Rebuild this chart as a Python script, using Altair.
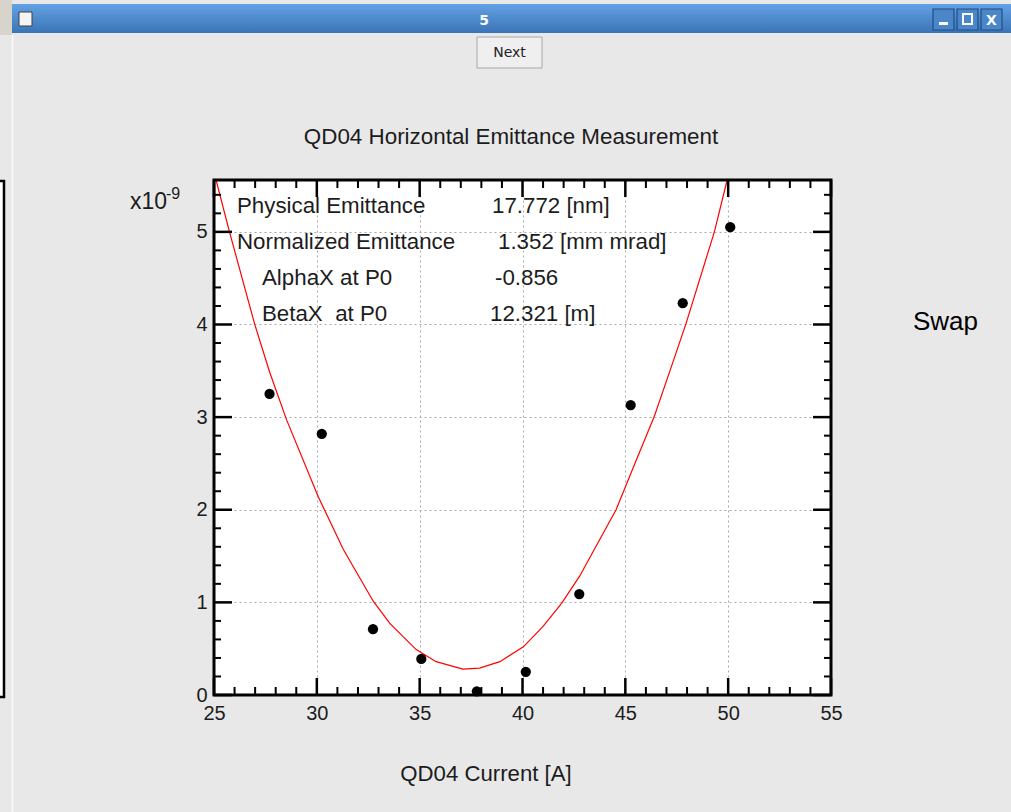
import altair as alt
import pandas as pd

# ---------------- data ----------------
current_A = [27.70, 30.24, 32.73, 35.08, 37.78, 40.16, 42.76, 45.26, 47.79, 50.10]
emittance_e9 = [3.25, 2.82, 0.71, 0.39, 0.04, 0.25, 1.09, 3.13, 4.23, 5.05]

fit_current_A = [25.10, 25.74, 26.97, 27.70, 28.53, 30.07, 31.29, 32.75, 33.56,
                 34.83, 35.80, 37.10, 37.91, 38.90, 40.04, 41.00, 41.90, 42.77,
                 44.55, 45.52, 46.41, 47.14, 47.95, 49.33, 49.95]
fit_value_e9 = [5.56, 5.01, 4.01, 3.49, 2.97, 2.14, 1.57, 1.01, 0.77,
                0.49, 0.36, 0.28, 0.29, 0.36, 0.52, 0.74, 0.99, 1.28,
                2.00, 2.53, 3.01, 3.48, 4.01, 5.00, 5.56]

x_major = [25, 30, 35, 40, 45, 50, 55]
x_minor = [26, 27, 28, 29, 31, 32, 33, 34, 36, 37, 38, 39, 41, 42, 43, 44,
           46, 47, 48, 49, 51, 52, 53, 54]
y_major = [0, 1, 2, 3, 4, 5]
y_minor = [0.2, 0.4, 0.6, 0.8, 1.2, 1.4, 1.6, 1.8, 2.2, 2.4, 2.6, 2.8,
           3.2, 3.4, 3.6, 3.8, 4.2, 4.4, 4.6, 4.8, 5.2, 5.4]

title_text = "QD04 Horizontal Emittance Measurement"
x_title = "QD04 Current [A]"
y_scale_text = "x10"
y_scale_exp = "-9"
info_labels = ["Physical Emittance", "Normalized Emittance", "AlphaX at P0", "BetaX\u00a0 at P0"]
info_values = ["17.772 [nm]", "1.352 [mm mrad]", "-0.856", "12.321 [m]"]
window_title = "5"
button_text = "Next"
side_text = "Swap"

# ---------------- geometry ----------------
L, T = 214, 180          # plot-area origin on the page
W, H = 617, 515          # plot-area size
FONT = "Liberation Sans"
TXT = "#1c1c1c"


def px(X):
    return X - L


def py(Y):
    return Y - T


xs = alt.Scale(domain=[25, 55], nice=False, zero=False)
ys = alt.Scale(domain=[0, 5.56], nice=False, zero=False)

XAX = alt.Axis(values=x_major, tickSize=0, domain=False, grid=True, gridDash=[2, 3],
               gridColor="#a8a8a8", gridWidth=1, labelFontSize=20, labelFont=FONT,
               labelColor=TXT, labelPadding=8, labelFlush=False, title=None)
YAX = alt.Axis(values=y_major, tickSize=0, domain=False, grid=True, gridDash=[2, 3],
               gridColor="#a8a8a8", gridWidth=1, labelFontSize=20, labelFont=FONT,
               labelColor=TXT, labelPadding=7, labelFlush=False, title=None)

points_df = pd.DataFrame({"x": current_A, "y": emittance_e9})
fit_df = pd.DataFrame({"x": fit_current_A, "y": fit_value_e9})
one = pd.DataFrame({"k": [0]})

fit_line = alt.Chart(fit_df).mark_line(color="#ff0000", strokeWidth=1.2).encode(
    x=alt.X("x:Q", scale=xs, axis=XAX),
    y=alt.Y("y:Q", scale=ys, axis=YAX),
    order=alt.Order("x:Q"),
)

pts = alt.Chart(points_df).mark_circle(size=105, color="black", opacity=1).encode(
    x=alt.X("x:Q", scale=xs, axis=XAX),
    y=alt.Y("y:Q", scale=ys, axis=YAX),
)


def xticks(vals, length, width):
    d = pd.DataFrame({"x": vals})
    bottom = alt.Chart(d).mark_rule(color="black", strokeWidth=width).encode(
        x=alt.X("x:Q", scale=xs, axis=XAX), y=alt.value(H), y2=alt.value(H - length))
    top = alt.Chart(d).mark_rule(color="black", strokeWidth=width).encode(
        x=alt.X("x:Q", scale=xs, axis=XAX), y=alt.value(0), y2=alt.value(length))
    return [bottom, top]


def yticks(vals, length, width):
    d = pd.DataFrame({"y": vals})
    left = alt.Chart(d).mark_rule(color="black", strokeWidth=width).encode(
        y=alt.Y("y:Q", scale=ys, axis=YAX), x=alt.value(0), x2=alt.value(length))
    right = alt.Chart(d).mark_rule(color="black", strokeWidth=width).encode(
        y=alt.Y("y:Q", scale=ys, axis=YAX), x=alt.value(W), x2=alt.value(W - length))
    return [left, right]


tick_layers = (xticks(x_major, 17, 2.5) + xticks(x_minor, 8, 2) +
               yticks(y_major, 18, 2.5) + yticks(y_minor, 7, 2))

frame = alt.Chart(one).mark_rect(fillOpacity=0, stroke="black", strokeWidth=3).encode(
    x=alt.value(0), x2=alt.value(W), y=alt.value(0), y2=alt.value(H))


def txt(s, X, Y, size, align="left", color=TXT, font=FONT, weight="normal"):
    return alt.Chart(one).mark_text(text=s, align=align, baseline="alphabetic",
                                    fontSize=size, font=font, color=color,
                                    fontWeight=weight).encode(
        x=alt.value(px(X)), y=alt.value(py(Y)))


def box(X1, X2, Y1, Y2, fill, stroke=None, sw=1, opacity=1):
    kw = dict(fill=fill, fillOpacity=opacity)
    if stroke is not None:
        kw.update(stroke=stroke, strokeWidth=sw)
    return alt.Chart(one).mark_rect(**kw).encode(
        x=alt.value(px(X1)), x2=alt.value(px(X2)), y=alt.value(py(Y1)), y2=alt.value(py(Y2)))


def vline(X, Y1, Y2, color, sw):
    return alt.Chart(one).mark_rule(color=color, strokeWidth=sw).encode(
        x=alt.value(px(X)), y=alt.value(py(Y1)), y2=alt.value(py(Y2)))


def hline(X1, X2, Y, color, sw):
    return alt.Chart(one).mark_rule(color=color, strokeWidth=sw).encode(
        x=alt.value(px(X1)), x2=alt.value(px(X2)), y=alt.value(py(Y)))


info_x_labels = [237, 237, 262, 262]
info_x_values = [492, 498, 495, 490]
info_y = [213, 249, 285, 321]
info_layers = []
for lab, val, xl, xv, yb in zip(info_labels, info_values, info_x_labels, info_x_values, info_y):
    info_layers.append(txt(lab, xl, yb, 22.3))
    info_layers.append(txt(val, xv, yb, 22.3))

title_grad = alt.Gradient(gradient="linear",
                          stops=[alt.GradientStop(color="#62a2e4", offset=0),
                                 alt.GradientStop(color="#3a74b6", offset=1)],
                          x1=0, x2=0, y1=0, y2=1)
titlebar = alt.Chart(one).mark_rect(fill=title_grad).encode(
    x=alt.value(px(12)), x2=alt.value(px(1011)), y=alt.value(py(4)), y2=alt.value(py(33)))

chrome = [
    box(0, 12, 0, 35, "#d8d4cc"),
    titlebar,
    box(19, 32, 12, 26, "#f4f4f4", "#404040", 1),
    txt(window_title, 484, 25, 14, align="center", color="white", font="DejaVu Sans", weight="bold"),
    box(933, 954, 9, 30, "#4a86c8", "#1e4f86", 1.2),
    box(957, 978, 9, 30, "#4a86c8", "#1e4f86", 1.2),
    box(981, 1002, 9, 30, "#4a86c8", "#1e4f86", 1.2),
    box(939, 948, 22, 25, "white"),
    box(963, 972, 14, 24, "#4a86c8", "white", 2),
    txt("X", 991.5, 25, 14, align="center", color="white", font="DejaVu Sans", weight="bold"),
    box(477, 542, 37, 68, "#efefef", "#a8a8a8", 1),
    txt(button_text, 509.5, 57, 14, align="center", color="#222222", font="DejaVu Sans"),
    vline(12.5, 35, 812, "#fafafa", 1.5),
    box(0, 4, 181, 697, "white"),
    vline(4, 180, 698, "black", 2.5),
    hline(0, 5, 181, "black", 2.5),
    hline(0, 5, 697, "black", 2.5),
    txt(title_text, 511, 144, 22.4, align="center"),
    txt(x_title, 486, 781, 22.2, align="center"),
    txt(side_text, 913, 330, 26, color="black"),
    txt(y_scale_text, 130, 209, 23),
    txt(y_scale_exp, 166, 199, 16),
]

chart = alt.layer(
    fit_line, pts, *tick_layers, frame, *info_layers, *chrome
).properties(
    width=W, height=H,
    autosize=alt.AutoSizeParams(type="none"),
    padding={"left": L, "top": T, "right": 1011 - L - W, "bottom": 812 - T - H},
).configure(background="#e8e8e8").configure_view(fill="white", strokeWidth=0)

chart.save("out.html", embed_options={"renderer": "svg", "actions": False})
